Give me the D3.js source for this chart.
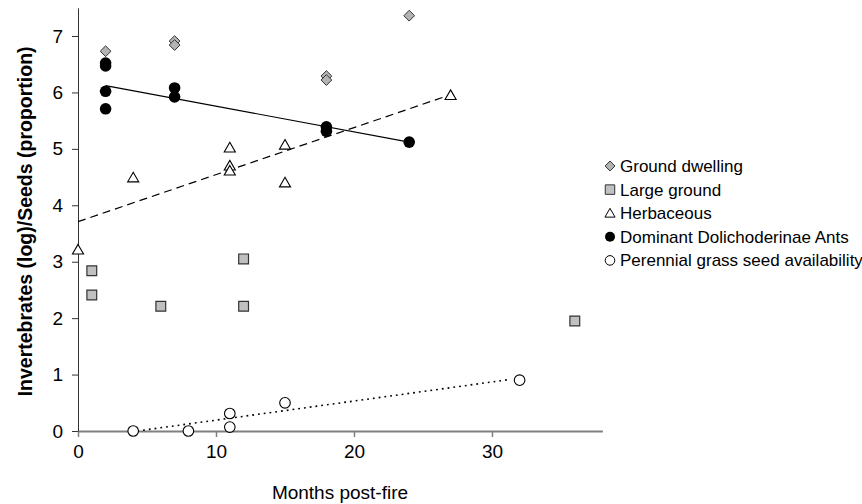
<!DOCTYPE html>
<html>
<head>
<meta charset="utf-8">
<script src="https://cdn.jsdelivr.net/npm/d3@7"></script>
<style>
  html, body { margin: 0; padding: 0; background: #fff; }
  text { font-family: "Liberation Sans", Arial, sans-serif; fill: #000; }
</style>
</head>
<body>
<div id="chart"></div>
<script>
// Data
const groundDwelling = [
  { x: 2, y: 6.73 }, { x: 7, y: 6.91 }, { x: 7, y: 6.84 },
  { x: 18, y: 6.29 }, { x: 18, y: 6.22 }, { x: 24, y: 7.36 }
];
const largeGround = [
  { x: 1, y: 2.84 }, { x: 1, y: 2.41 }, { x: 6, y: 2.21 },
  { x: 12, y: 3.05 }, { x: 12, y: 2.21 }, { x: 36, y: 1.95 }
];
const herbaceous = [
  { x: 0, y: 3.21 }, { x: 4, y: 4.49 }, { x: 11, y: 5.02 }, { x: 11, y: 4.70 },
  { x: 11, y: 4.61 }, { x: 15, y: 5.07 }, { x: 15, y: 4.40 }, { x: 27, y: 5.95 }
];
const dominantAnts = [
  { x: 2, y: 6.52 }, { x: 2, y: 6.47 }, { x: 2, y: 6.02 }, { x: 2, y: 5.71 },
  { x: 7, y: 6.08 }, { x: 7, y: 5.92 }, { x: 18, y: 5.39 }, { x: 18, y: 5.31 },
  { x: 24, y: 5.12 }
];
const grassSeed = [
  { x: 4, y: 0 }, { x: 8, y: 0 }, { x: 11, y: 0.31 }, { x: 11, y: 0.07 },
  { x: 15, y: 0.50 }, { x: 32, y: 0.90 }
];

// Fitted trend lines (end points in data units)
const antsTrend = [{ x: 2, y: 6.12 }, { x: 24, y: 5.12 }];
const herbTrend = [{ x: 0, y: 3.71 }, { x: 27, y: 5.96 }];
const seedTrend = [{ x: 4.3, y: 0 }, { x: 31.2, y: 0.91 }];

const xTicks = [0, 10, 20, 30];
const yTicks = [0, 1, 2, 3, 4, 5, 6, 7];
const legendLabels = [
  'Ground dwelling', 'Large ground', 'Herbaceous',
  'Dominant Dolichoderinae Ants', 'Perennial grass seed availability'
];

const W = 862, H = 504;
const MARGIN = { top: 8, left: 78, bottom: 73 };

const svg = d3.select('#chart').append('svg')
  .attr('width', W).attr('height', H);

const x = d3.scaleLinear().domain([0, 38]).range([MARGIN.left, 602.4]);
const y = d3.scaleLinear().domain([0, 7.5]).range([H - MARGIN.bottom, 7.8]);

// marker shapes
const diamond = d3.symbol().type(d3.symbolDiamond2).size(74);
const square = d3.symbol().type(d3.symbolSquare).size(96);
const triangle = d3.symbol().type(d3.symbolTriangle2).size(88);

const styles = [
  { data: groundDwelling, draw: g => g.append('path').attr('d', diamond).attr('fill', '#b4b4b4').attr('stroke', '#333').attr('stroke-width', 1) },
  { data: largeGround, draw: g => g.append('path').attr('d', square).attr('fill', '#c0c0c0').attr('stroke', '#333').attr('stroke-width', 1.2) },
  { data: herbaceous, draw: g => g.append('path').attr('d', triangle).attr('transform', 'translate(0,1)').attr('fill', '#fff').attr('stroke', '#000').attr('stroke-width', 1.1) },
  { data: dominantAnts, draw: g => g.append('circle').attr('r', 5.8).attr('fill', '#000') },
  { data: grassSeed, draw: g => g.append('circle').attr('r', 5.3).attr('fill', '#fff').attr('stroke', '#000').attr('stroke-width', 1.1) }
];

// Axes
const xAxis = svg.append('g')
  .attr('transform', `translate(0,${y(0)})`)
  .call(d3.axisBottom(x).tickValues(xTicks).tickSize(6).tickPadding(8).tickSizeOuter(0));
xAxis.select('.domain').attr('stroke', '#808080').attr('stroke-width', 2);
xAxis.selectAll('.tick line').attr('stroke', '#808080').attr('stroke-width', 1.5);
xAxis.selectAll('.tick text').attr('font-size', '19px').attr('fill', '#000')
  .attr('font-family', '"Liberation Sans", Arial, sans-serif');

const yAxis = svg.append('g')
  .attr('transform', `translate(${x(0)},0)`)
  .call(d3.axisLeft(y).tickValues(yTicks).tickSize(6).tickPadding(9).tickSizeOuter(0));
yAxis.select('.domain').attr('stroke', '#333').attr('stroke-width', 1);
yAxis.selectAll('.tick line').attr('stroke', '#333');
yAxis.selectAll('.tick text').attr('font-size', '19px').attr('fill', '#000')
  .attr('font-family', '"Liberation Sans", Arial, sans-serif');

// Axis titles
svg.append('text')
  .attr('x', 340).attr('y', 499)
  .attr('text-anchor', 'middle').attr('font-size', '19px')
  .text('Months post-fire');

svg.append('text')
  .attr('transform', `translate(32,${(y(0) + y(7.5)) / 2 + 2}) rotate(-90)`)
  .attr('text-anchor', 'middle').attr('font-size', '19.5px').attr('font-weight', 'bold')
  .text('Invertebrates (log)/Seeds (proportion)');

// Trend lines
const line = d3.line().x(d => x(d.x)).y(d => y(d.y));
svg.append('path').datum(herbTrend).attr('d', line)
  .attr('fill', 'none').attr('stroke', '#000').attr('stroke-width', 1.2)
  .attr('stroke-dasharray', '8 5');
svg.append('path').datum(seedTrend).attr('d', line)
  .attr('fill', 'none').attr('stroke', '#000').attr('stroke-width', 1.6)
  .attr('stroke-dasharray', '1.8 4');

// Points
styles.forEach(s => {
  svg.append('g').selectAll('g')
    .data(s.data).join('g')
    .attr('transform', d => `translate(${x(d.x)},${y(d.y)})`)
    .each(function () { s.draw(d3.select(this)); });
});

svg.append('path').datum(antsTrend).attr('d', line)
  .attr('fill', 'none').attr('stroke', '#000').attr('stroke-width', 1.2);

// Legend
const legend = svg.append('g').attr('transform', 'translate(610,166)');
const legendMarks = [
  g => g.append('path').attr('d', d3.symbol().type(d3.symbolDiamond2).size(62)).attr('fill', '#b4b4b4').attr('stroke', '#333'),
  g => g.append('path').attr('d', d3.symbol().type(d3.symbolSquare).size(90)).attr('fill', '#c0c0c0').attr('stroke', '#333'),
  g => g.append('path').attr('d', d3.symbol().type(d3.symbolTriangle2).size(74)).attr('transform', 'translate(0,1)').attr('fill', '#fff').attr('stroke', '#000'),
  g => g.append('circle').attr('r', 5).attr('fill', '#000'),
  g => g.append('circle').attr('r', 4.8).attr('fill', '#fff').attr('stroke', '#000')
];
legendLabels.forEach((label, i) => {
  const row = legend.append('g').attr('transform', `translate(0,${i * 23.6})`);
  legendMarks[i](row);
  row.append('text').attr('x', 10).attr('y', 6).attr('font-size', '17px').text(label);
});
</script>
</body>
</html>
